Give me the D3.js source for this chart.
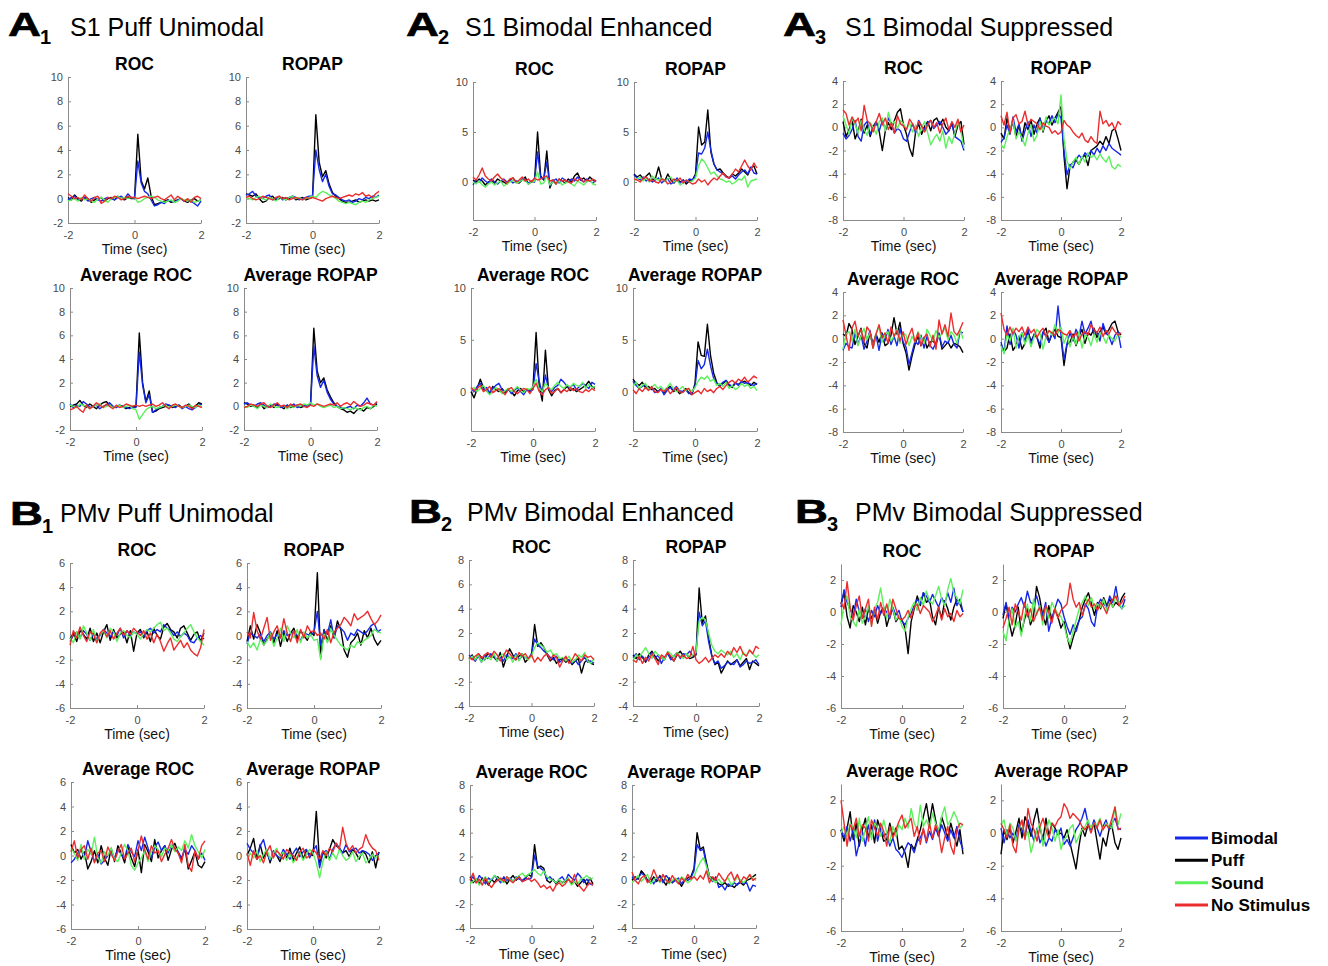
<!DOCTYPE html>
<html><head><meta charset="utf-8">
<script src="https://cdn.jsdelivr.net/npm/d3@7"></script>
<style>
body{margin:0;background:#fff;}
svg{display:block;font-family:"Liberation Sans",Arial,Helvetica,sans-serif;}
</style>
</head><body>
<svg id="chart" width="1328" height="966"></svg>
<script>
// ---------------- DATA ----------------
const timeSec = [-2.0,-1.9,-1.8,-1.7,-1.6,-1.5,-1.4,-1.3,-1.2,-1.1,-1.0,-0.9,-0.8,-0.7,-0.6,-0.5,-0.4,-0.3,-0.2,-0.1,
  0.0,0.1,0.2,0.3,0.4,0.5,0.6,0.7,0.8,0.9,1.0,1.1,1.2,1.3,1.4,1.5,1.6,1.7,1.8,1.9,2.0];
const seriesNames = ["Bimodal","Puff","Sound","No Stimulus"];
const panelTitles = ["ROC","ROPAP","Average ROC","Average ROPAP"];
const groupLetters = ["A","A","A","B","B","B"];
const groupSubscripts = ["1","2","3","1","2","3"];
const groupTitles = ["S1 Puff Unimodal","S1 Bimodal Enhanced","S1 Bimodal Suppressed",
  "PMv Puff Unimodal","PMv Bimodal Enhanced","PMv Bimodal Suppressed"];
const xTickValues = [-2,0,2];
const xLabel = "Time (sec)";
const yDomains = [[-2,10],[-3.8,10],[-8,4],[-6,6],[-4,8],[-6,3]];
const yTicks = [[-2,0,2,4,6,8,10],[0,5,10],[-8,-6,-4,-2,0,2,4],[-6,-4,-2,0,2,4,6],[-4,-2,0,2,4,6,8],[-6,-4,-2,0,2]];

// each panel: [Bimodal, Puff, Sound, No Stimulus]
const A1_ROC = [
 [-0.1,0.1,0.2,-0.1,0.0,0.1,-0.2,0.0,0.1,-0.1,-0.2,0.0,0.1,0.0,-0.1,0.1,0.2,0.0,0.4,0.1, 0.0,3.1,1.3,0.6,0.4,-0.1,-0.6,-0.5,-0.3,-0.4,-0.1,-0.2,-0.3,-0.1,0.0,-0.2,-0.1,-0.2,-0.4,-0.6,-0.2],
 [0.1,-0.1,0.3,0.0,-0.2,0.1,0.0,-0.3,-0.1,0.0,0.1,-0.2,0.0,0.1,-0.1,0.2,0.0,-0.1,0.1,0.0, 0.0,5.3,1.5,0.8,1.7,0.2,-0.5,-0.4,-0.3,-0.2,-0.1,-0.3,-0.2,-0.1,0.0,-0.2,-0.3,-0.1,0.0,-0.2,-0.1],
 [-0.2,-0.1,0.0,-0.2,0.1,-0.1,0.0,-0.2,-0.3,0.0,0.1,-0.1,-0.3,0.0,0.1,0.2,0.0,0.1,0.0,0.1, 0.1,-0.3,-0.2,0.0,0.1,0.2,0.1,-0.1,-0.2,-0.3,-0.2,-0.1,-0.3,-0.2,0.0,-0.1,-0.2,-0.1,-0.3,-0.2,-0.1],
 [0.4,0.2,0.0,0.1,-0.1,0.3,0.0,-0.2,0.1,0.2,-0.4,-0.2,0.1,0.0,0.2,0.1,-0.1,0.0,0.2,0.1, 0.1,0.0,0.1,0.2,0.1,0.0,0.1,0.2,0.0,-0.1,0.1,0.3,-0.1,0.2,0.0,-0.2,0.0,-0.3,0.1,0.2,0.0]];
const A1_ROPAP = [
 [0.3,0.4,0.6,0.2,0.1,0.0,0.2,0.3,-0.1,0.0,0.2,-0.1,0.0,0.1,0.2,0.1,-0.1,0.0,0.1,0.2, 0.2,4.0,2.4,1.4,2.0,1.0,0.4,0.3,0.1,-0.1,-0.2,-0.1,-0.3,-0.2,0.0,-0.1,0.1,0.0,0.2,0.1,0.3],
 [0.4,0.3,0.2,0.4,0.0,-0.3,-0.2,0.1,0.2,-0.1,0.0,0.1,-0.1,0.0,0.2,-0.1,0.0,0.1,-0.1,0.0, 0.1,6.9,3.0,1.8,2.3,1.2,0.5,0.2,0.0,-0.2,-0.3,-0.3,-0.2,-0.1,-0.3,-0.2,-0.1,-0.2,-0.1,-0.2,-0.1],
 [0.1,0.0,-0.1,0.1,0.2,0.0,-0.1,0.1,0.0,-0.2,0.1,0.0,-0.1,0.1,0.2,0.0,0.1,-0.1,0.0,0.1, 0.2,0.1,0.4,0.6,0.5,0.3,0.2,0.0,-0.2,-0.3,-0.4,-0.3,-0.4,-0.5,-0.3,-0.2,-0.3,-0.1,0.0,0.1,0.2],
 [0.1,0.2,0.0,-0.1,0.0,0.2,0.1,0.0,-0.1,0.1,0.2,0.0,0.1,-0.1,0.0,0.1,0.0,-0.1,0.1,0.0, 0.1,0.0,-0.1,-0.2,0.0,0.1,0.2,0.1,0.0,0.1,0.2,0.3,0.2,0.4,0.3,0.5,0.2,0.3,0.1,0.4,0.6]];
const A1_AVG_ROC = [
 [0.2,-0.1,0.1,0.0,0.4,0.2,-0.1,0.0,0.1,-0.2,0.0,0.1,0.3,0.0,-0.1,0.1,0.0,-0.1,-0.2,-0.1, -0.1,4.6,1.8,0.3,1.0,-0.5,-0.3,-0.1,0.0,0.2,0.1,0.0,-0.1,0.1,-0.2,0.0,-0.2,-0.3,-0.1,0.1,0.2],
 [0.0,0.1,0.2,0.5,0.1,-0.1,0.2,0.0,-0.2,0.1,0.3,0.4,0.1,0.0,-0.1,0.1,0.0,-0.2,-0.1,0.0, 0.0,6.2,2.0,0.4,1.3,-0.5,-0.4,-0.2,-0.1,0.0,0.1,-0.1,0.0,0.1,-0.1,0.0,0.2,-0.1,0.0,0.3,0.2],
 [0.1,0.0,-0.1,0.2,0.1,0.0,-0.2,0.0,0.1,0.2,-0.1,0.0,0.1,-0.1,0.0,0.1,-0.1,0.0,0.1,-0.2, -0.3,-1.1,-0.7,-0.3,-0.1,0.0,-0.2,-0.1,0.0,0.1,-0.1,0.0,0.1,0.0,-0.1,0.0,0.1,0.0,-0.1,0.1,0.0],
 [-0.3,-0.2,0.0,-0.3,-0.5,0.1,-0.2,0.0,0.3,0.1,-0.1,0.2,0.0,-0.2,0.1,-0.1,0.0,0.2,0.1,0.0, 0.1,0.0,0.1,0.0,0.1,0.2,0.0,0.1,0.3,0.0,-0.2,0.1,0.2,0.0,-0.1,0.1,0.0,-0.2,0.1,0.0,-0.1]];
const A1_AVG_ROPAP = [
 [0.2,0.3,0.1,0.0,0.2,0.3,0.1,-0.1,0.0,0.2,0.1,-0.1,0.0,0.1,0.0,0.2,-0.1,0.0,0.1,0.0, 0.1,5.1,2.6,1.6,2.2,1.2,0.6,0.2,0.0,-0.1,-0.2,-0.1,0.0,-0.2,0.1,0.0,0.3,0.7,0.2,0.1,0.3],
 [0.3,0.2,0.0,0.1,-0.1,0.2,-0.2,0.0,0.1,-0.1,0.2,0.0,-0.2,0.1,-0.1,0.0,0.1,-0.1,0.0,0.1, 0.1,6.6,3.0,2.0,2.4,1.4,0.8,0.3,0.0,-0.2,-0.3,-0.5,-0.4,-0.6,-0.3,-0.2,-0.4,-0.1,-0.2,0.0,0.2],
 [0.0,-0.1,0.1,0.0,-0.2,0.1,0.0,-0.1,0.2,0.0,-0.1,0.0,0.1,-0.2,0.0,-0.1,0.1,0.0,0.2,0.1, 0.3,0.1,0.2,0.0,-0.1,0.0,0.1,-0.1,0.0,-0.2,-0.1,-0.2,-0.3,-0.1,-0.2,-0.3,-0.1,0.0,-0.2,0.1,0.0],
 [-0.1,0.0,0.2,0.1,0.0,0.2,0.3,0.0,-0.1,0.1,0.3,0.0,0.1,-0.1,0.2,0.0,0.1,0.2,0.0,-0.1, 0.1,0.0,0.2,0.1,0.0,0.1,0.2,0.1,0.3,0.0,0.2,0.3,0.1,0.4,0.2,0.0,0.1,0.3,0.2,0.1,0.4]];

const A2_ROC = [
 [-0.3,0.2,0.0,0.4,0.1,-0.1,0.3,0.0,-0.2,0.1,0.3,0.0,0.2,-0.1,0.1,0.0,0.3,0.2,-0.1,0.1, 0.0,3.0,0.4,0.3,2.0,-0.4,0.1,0.3,-0.1,0.4,0.2,0.0,0.3,0.1,0.5,0.2,0.0,0.3,0.1,-0.1,0.2],
 [0.2,0.0,0.3,0.1,-0.3,0.0,0.2,-0.1,0.3,0.1,0.0,-0.2,0.2,0.4,0.0,-0.1,0.2,0.5,-0.2,0.0, 0.1,5.0,0.6,0.2,3.1,-0.6,0.2,-0.2,0.3,0.1,-0.1,0.3,0.0,0.6,0.9,0.2,0.4,0.1,0.5,0.2,0.1],
 [0.0,-0.2,0.1,-0.3,-0.5,-0.2,0.0,-0.3,-0.1,0.1,-0.4,-0.2,0.0,0.2,-0.1,0.0,0.2,0.1,-0.2,0.0, 0.1,1.0,-0.2,-0.1,0.6,-0.3,0.0,-0.2,0.1,-0.3,-0.1,0.0,-0.2,-0.4,0.1,-0.1,-0.3,0.0,0.2,-0.2,-0.3],
 [0.5,0.2,0.7,1.4,0.6,0.3,0.1,0.5,0.8,0.4,0.2,-0.1,0.3,0.4,0.0,0.2,0.5,0.1,0.3,0.0, 0.4,0.2,0.3,0.5,0.6,0.1,0.2,-0.2,0.3,0.1,0.2,0.0,-0.1,0.3,0.1,0.4,0.0,0.2,0.1,0.3,0.0]];
const A2_ROPAP = [
 [0.7,0.4,0.2,0.5,0.1,0.3,0.0,0.2,0.4,-0.1,0.2,0.3,-0.2,0.0,0.4,-0.1,0.2,0.0,0.3,0.2, 0.6,2.9,2.8,3.4,5.0,3.2,1.8,1.2,1.0,0.8,0.5,0.4,0.6,0.3,0.7,1.0,1.2,0.8,1.5,0.9,0.8],
 [0.8,0.5,0.7,0.3,0.6,0.9,0.2,0.4,1.5,0.3,0.1,0.8,0.2,-0.1,0.3,0.0,0.2,-0.2,0.1,0.2, 0.8,5.5,3.7,4.0,7.2,3.0,1.8,1.2,1.3,0.9,0.6,0.4,0.8,0.6,0.9,1.3,1.0,0.7,1.4,1.6,0.8],
 [0.2,0.3,0.5,0.1,0.4,0.0,0.6,0.3,0.2,0.4,0.1,0.3,0.5,0.0,0.2,-0.3,-0.1,0.2,0.0,0.1, 0.4,1.6,2.3,2.0,1.4,0.8,1.0,0.6,0.3,0.2,0.0,0.1,-0.2,0.0,0.3,0.2,0.6,-0.5,0.1,0.2,0.3],
 [0.3,0.2,0.0,0.4,0.5,0.1,0.2,0.0,-0.1,0.3,0.2,-0.2,0.0,0.3,0.1,0.4,-0.1,0.2,0.0,-0.2, -0.1,0.3,0.0,0.2,-0.3,0.1,0.4,0.2,0.6,0.9,0.5,0.4,0.8,1.3,1.0,1.6,2.2,1.6,1.2,1.9,1.4]];
const A2_AVG_ROC = [
 [0.3,0.0,0.5,0.8,0.2,0.4,-0.1,0.3,0.6,0.8,0.2,0.0,0.3,-0.2,0.1,0.4,0.0,-0.3,0.2,0.0, 0.2,2.7,1.0,-0.2,1.6,0.3,0.0,0.4,0.6,1.2,0.9,0.5,0.4,0.7,0.2,0.5,0.8,0.6,0.3,0.9,0.7],
 [0.0,-0.6,0.3,1.2,0.4,0.1,-0.2,0.5,0.2,0.0,0.3,-0.1,0.2,0.0,-0.4,0.1,0.3,0.0,0.2,0.1, 0.4,5.7,0.5,-0.9,4.0,0.2,-0.4,0.1,0.3,-0.1,0.2,0.5,0.1,0.3,0.0,0.2,0.4,0.6,1.0,0.5,0.3],
 [0.2,0.4,0.0,0.3,0.6,0.1,-0.3,0.0,0.4,0.2,-0.2,0.1,0.3,0.0,0.2,0.5,0.1,-0.1,0.3,0.2, 0.5,1.2,0.3,0.0,0.8,0.4,0.2,0.6,0.9,0.5,0.3,0.7,0.4,0.8,0.6,0.5,0.9,0.3,0.7,0.4,0.5],
 [0.4,0.1,0.3,0.6,0.0,0.2,0.5,-0.1,0.1,0.3,0.0,-0.3,0.2,0.4,0.0,-0.2,0.1,0.3,0.2,-0.2, 0.3,0.8,0.0,-0.3,0.2,0.4,-0.2,0.0,0.3,-0.1,0.2,0.0,0.4,0.1,0.3,0.0,-0.1,0.2,0.0,0.3,0.1]];
const A2_AVG_ROPAP = [
 [1.0,0.6,0.3,0.5,0.7,0.2,0.4,-0.1,0.0,0.3,-0.3,0.1,0.4,0.2,0.5,0.1,0.0,0.2,-0.2,-0.1, 0.5,3.0,2.2,2.6,4.1,2.5,1.3,0.8,0.6,0.9,1.1,0.7,0.5,0.9,0.6,1.0,0.8,0.9,0.7,0.6,0.8],
 [1.2,0.8,0.6,0.9,0.4,0.5,0.2,0.3,0.0,0.2,-0.1,0.3,0.5,0.0,0.2,-0.2,0.0,0.3,-0.1,-0.3, 0.8,4.8,3.5,3.4,6.5,3.5,1.8,0.9,0.5,0.8,1.0,0.6,0.4,0.8,0.7,0.9,1.0,0.8,0.6,0.9,0.7],
 [0.5,0.9,0.3,0.6,0.8,0.2,0.4,0.7,0.3,0.5,0.1,0.4,0.8,0.3,0.0,0.2,0.5,0.1,0.3,0.0, 0.4,1.0,1.4,1.2,1.5,1.0,1.2,0.6,0.8,0.5,0.9,0.3,0.6,0.2,0.4,0.8,0.5,0.7,0.3,0.5,0.1],
 [0.2,-0.2,0.3,0.0,0.4,0.1,0.5,0.0,-0.1,0.2,0.0,0.3,-0.2,0.1,0.4,0.0,-0.1,0.2,0.3,-0.3, -0.1,0.1,-0.2,0.3,0.0,0.2,-0.1,0.3,0.5,0.2,0.6,0.9,1.1,0.8,1.2,1.0,1.4,0.9,1.2,1.5,1.3]];

const A3_ROC = [
 [-0.5,-1.0,-0.7,-0.2,0.6,-0.8,-1.2,0.2,0.5,-0.6,0.0,0.4,-0.3,0.6,-0.2,0.8,0.3,-0.5,-0.1,-0.3, -1.0,-1.2,-0.4,0.3,-0.5,0.6,0.1,-0.2,0.4,0.6,-0.1,0.2,0.5,0.0,-0.6,-0.3,0.3,-0.8,-1.0,-1.2,-2.0],
 [0.5,-0.8,-0.2,0.6,-1.0,-0.3,0.7,-0.5,0.2,-0.8,0.1,0.5,-0.4,-2.0,-0.3,0.4,-0.2,0.6,1.3,1.6, 0.2,-0.6,-1.8,-2.5,-0.4,0.3,-0.6,0.1,0.5,-0.3,0.6,0.8,0.2,0.7,0.0,-0.3,0.4,-0.8,0.2,0.5,-1.5],
 [1.0,0.2,-0.6,0.8,0.3,-0.5,0.6,-0.2,-0.7,0.4,0.0,-0.6,0.5,0.8,-0.3,1.3,0.2,0.5,-0.1,0.6, 0.3,-0.2,0.4,-0.4,0.2,-0.8,0.0,0.5,-0.5,-1.5,-1.0,-0.6,-1.2,-0.3,-1.8,-0.8,-1.4,-0.5,0.5,-0.4,-1.8],
 [1.5,1.2,0.2,0.9,0.4,0.8,-0.3,1.9,0.6,0.3,-0.4,0.5,1.2,0.2,0.8,-0.2,0.4,-0.5,1.0,0.3, 0.1,-0.2,0.7,0.3,-0.3,0.5,0.1,-0.4,0.2,0.6,0.0,0.4,-0.5,0.3,0.8,-0.2,0.5,0.0,0.7,-0.4,0.2]];
const A3_ROPAP = [
 [-1.3,-0.9,0.2,-0.6,0.9,-0.4,0.3,-1.2,-0.3,0.5,-0.8,0.2,-0.5,0.8,-0.2,0.6,0.3,1.0,0.4,1.2, 0.8,-2.0,-4.1,-3.2,-3.5,-2.8,-2.4,-2.7,-2.2,-2.5,-2.0,-2.4,-1.8,-2.2,-1.6,-2.0,-1.4,-1.8,-2.0,-2.2,-2.4],
 [-0.5,-1.0,0.8,-0.3,0.5,-0.8,0.2,-1.0,0.4,-0.2,0.6,-0.6,0.3,0.8,-0.4,0.5,1.0,0.2,0.8,1.3, 1.8,-2.5,-5.3,-3.4,-3.0,-2.8,-3.2,-2.6,-2.4,-3.3,-2.0,-1.8,-1.6,-1.2,-1.5,-0.8,-1.4,-0.3,-0.1,-1.0,-2.0],
 [-1.5,-1.8,-0.8,-0.2,0.6,-1.0,-0.4,-0.9,-1.6,-0.5,0.2,-1.2,-0.7,0.5,-0.3,0.9,0.2,0.6,0.8,0.3, 2.8,-1.0,-2.9,-3.6,-3.0,-2.6,-3.2,-2.5,-3.0,-2.2,-2.6,-2.4,-2.8,-2.3,-2.7,-3.0,-2.5,-3.4,-3.6,-3.2,-3.4],
 [1.0,0.2,1.3,-0.5,0.8,1.1,0.3,0.5,1.4,0.2,0.7,0.5,0.3,-0.2,0.4,0.1,0.0,-0.5,-0.3,-0.6, -0.4,0.6,0.2,0.0,-0.4,-0.7,-0.9,-0.5,-1.1,-1.3,-0.8,-1.2,-1.4,1.4,0.3,0.6,0.1,0.4,-0.2,0.5,0.2]];
const A3_AVG_ROC = [
 [-1.0,-0.4,-0.7,-0.8,0.5,-0.5,0.3,-0.9,-0.2,0.7,-0.8,0.3,-1.0,0.4,-0.2,0.8,-0.5,0.2,-0.6,0.9, -0.3,-0.7,-2.2,-1.2,-0.2,-0.5,0.3,-0.8,0.2,-0.6,-0.9,-0.3,0.5,-0.7,-0.2,-0.4,0.3,-0.5,-0.8,0.6,0.5],
 [0.4,0.2,1.3,0.8,-0.5,0.2,0.9,-0.4,-0.8,0.6,-0.5,0.4,-0.3,0.5,-0.6,-0.4,0.3,1.8,0.4,1.4, -0.4,-1.2,-2.7,-1.5,-0.5,0.2,-0.6,0.1,-0.8,-0.3,-0.2,-0.5,0.4,-0.9,-0.6,-0.3,-0.8,-0.4,-0.5,-0.7,-1.2],
 [-0.9,0.4,0.6,-0.2,0.8,-0.6,0.2,0.9,-0.1,0.5,-0.8,0.4,1.0,-0.3,0.3,0.6,-0.2,0.2,0.8,-0.4, 0.5,0.3,-0.6,0.2,-0.3,0.6,0.1,-0.4,0.8,0.3,-0.2,0.7,0.1,0.5,0.9,-0.1,0.6,0.3,-0.4,0.8,0.0],
 [1.6,0.3,-1.0,0.9,1.5,0.2,0.8,-0.3,1.0,0.6,-0.8,0.4,1.2,0.1,0.5,-0.4,1.0,0.2,0.7,-0.2, 0.6,-0.5,0.3,0.9,-0.3,0.5,-0.6,0.1,0.4,-0.7,0.3,-0.9,1.6,0.4,1.2,0.2,2.2,0.6,0.3,0.8,1.4]];
const A3_AVG_ROPAP = [
 [-0.3,-1.2,1.1,-0.5,0.8,0.3,-0.8,0.5,-0.2,0.9,-0.6,0.4,0.1,-0.5,0.6,0.2,-0.3,0.5,0.0,2.8, 0.3,-1.8,-0.4,0.5,-0.2,0.8,0.2,1.5,0.4,0.9,1.5,0.3,0.6,-0.2,1.3,0.5,0.2,-0.5,0.3,0.6,-0.8],
 [-0.5,-1.1,-0.8,0.4,-1.0,-0.6,0.2,-0.9,-0.4,0.6,-0.2,0.3,0.1,-0.8,0.5,0.9,-0.3,0.4,0.8,0.2, 0.1,-2.3,-0.5,-0.3,0.4,-0.6,0.2,0.8,-0.4,0.5,0.3,0.9,0.1,0.6,1.0,0.4,0.8,1.3,1.5,0.6,0.3],
 [-0.6,-1.3,0.4,-0.2,0.9,-0.8,0.2,0.5,-0.5,0.3,-0.7,0.1,0.8,0.5,-0.9,0.2,0.7,0.3,1.2,0.5, 1.0,-0.4,0.3,-0.7,0.2,-0.5,0.6,-0.8,0.3,0.1,-0.6,0.4,-0.3,0.5,0.2,-0.4,0.3,0.0,-0.2,0.4,0.1],
 [2.2,0.8,0.3,1.0,0.4,0.9,0.6,1.0,0.3,1.0,0.5,0.8,0.1,0.6,0.9,0.2,0.7,0.5,0.3,0.8, 0.6,0.4,0.3,0.7,0.1,0.5,-0.2,0.4,0.6,0.3,1.2,0.8,0.5,1.0,0.2,0.7,0.4,1.0,0.6,0.3,0.5]];

const B1_ROC = [
 [-0.5,0.0,0.3,-0.2,0.4,0.1,-0.4,0.2,-0.3,0.0,0.5,0.2,-0.1,0.3,0.0,0.6,-0.2,0.4,0.0,0.3, 0.1,0.3,-0.1,0.4,0.6,0.2,0.5,0.3,0.9,0.6,0.4,0.0,0.3,-0.1,0.2,0.0,-0.5,-0.6,-0.2,0.0,-0.3],
 [-0.3,0.2,-0.5,0.4,0.1,-0.3,0.6,-0.5,0.2,-0.6,0.3,0.9,-0.4,0.5,-0.2,0.1,0.3,-0.6,0.4,-1.3, 0.2,0.5,-0.2,0.3,-0.5,0.6,0.0,-0.3,0.7,1.0,0.5,0.3,-0.2,0.6,0.8,0.2,-0.4,0.1,0.3,-0.5,0.2],
 [-0.2,-0.6,0.3,-0.3,0.8,0.2,-0.4,0.5,-0.6,0.1,0.4,-0.2,0.6,0.3,-0.5,0.2,0.4,0.0,-0.2,0.3, 0.1,-0.3,0.2,0.5,0.3,0.6,0.9,1.1,0.4,0.6,0.2,-0.3,-0.5,-0.1,0.2,0.6,0.9,0.3,-0.2,-0.5,-0.8],
 [-0.8,0.4,-0.2,0.7,0.0,-0.5,0.3,0.1,-0.6,0.2,0.5,-0.1,0.4,-0.3,0.2,0.6,0.0,0.4,0.1,0.6, 0.3,0.0,0.4,-0.3,0.2,-0.6,0.1,-0.5,-1.3,-0.7,-0.2,-1.2,-0.8,-0.4,-1.0,-0.6,-1.2,-1.5,-1.7,-1.0,0.5]];
const B1_ROPAP = [
 [-0.7,0.2,0.0,-0.2,0.1,-0.5,0.0,0.3,-0.3,0.1,-0.2,0.4,0.0,0.1,0.3,0.0,-0.4,0.2,0.1,0.0, 0.3,2.0,-0.8,0.4,0.1,1.3,-0.2,0.8,0.6,0.3,-0.4,0.2,0.0,0.5,0.3,0.1,0.4,0.8,1.0,0.3,0.5],
 [-0.5,0.8,-0.3,0.9,0.2,-0.8,-0.3,0.1,-0.6,0.4,-0.9,0.3,-0.5,0.2,0.6,-0.3,0.4,0.0,-0.4,0.3, 0.0,5.2,-1.8,0.5,-0.5,0.8,-0.2,1.2,0.5,-1.2,-1.8,-0.6,-0.3,0.2,-0.8,0.4,-0.2,0.6,-0.3,-0.8,-0.4],
 [-0.5,-1.0,-0.6,-1.2,-0.3,-0.8,-0.4,0.2,-0.9,-0.2,0.6,-0.5,0.8,0.2,-0.2,0.5,-0.6,0.3,-0.2,0.1, -0.4,-0.3,-2.0,0.1,-0.6,0.6,0.0,-0.4,-0.8,-1.0,-1.2,-0.8,-1.0,-0.5,-0.7,-0.4,-0.2,0.0,0.5,0.3,0.2],
 [0.3,-0.2,1.9,0.4,-0.3,0.6,1.5,-0.4,0.3,0.8,-0.2,1.4,0.2,-0.5,0.4,-0.6,0.5,-0.2,0.8,0.3, 0.4,0.0,0.2,-0.3,0.5,-0.6,0.3,0.6,0.9,1.5,1.2,0.8,1.8,1.3,1.5,1.7,2.0,1.4,0.9,1.2,1.7]];
const B1_AVG_ROC = [
 [-0.6,-0.3,0.2,0.5,-0.2,1.2,0.3,-0.5,0.1,-0.7,-0.4,0.0,0.3,-0.2,0.5,0.1,-0.3,0.9,0.3,-0.1, 1.2,0.4,1.5,0.6,-0.2,0.7,1.1,0.4,0.8,0.2,0.9,0.6,0.3,-0.2,0.5,0.1,0.8,0.4,-0.3,0.2,-0.4],
 [0.9,0.2,0.5,-0.3,0.3,-1.1,-0.5,0.4,-0.6,0.8,-0.2,-0.8,0.6,-0.5,0.8,0.2,-0.6,0.7,-0.2,-0.9, 0.5,-1.4,0.9,0.3,-0.5,1.3,-0.2,0.4,0.8,-0.4,0.5,1.0,0.2,-0.3,0.6,-1.1,-0.4,0.3,-0.8,-1.0,-0.5],
 [0.6,0.2,-0.4,0.9,-0.3,0.5,0.1,1.5,-0.2,-0.6,0.3,0.0,0.6,-0.3,-0.5,0.2,0.9,0.4,-0.8,-1.2, -0.6,-0.2,0.4,-0.5,0.3,0.8,0.5,-0.1,0.6,0.4,0.9,0.3,0.7,0.4,1.2,0.6,1.7,0.8,0.3,-0.2,0.5],
 [0.3,1.2,-0.2,0.5,0.8,-0.3,0.6,-0.6,0.2,0.4,-0.5,0.7,0.1,-0.4,0.3,0.9,-0.3,0.2,0.6,-0.5, 0.4,1.6,0.5,-0.3,0.8,0.2,0.4,-0.5,0.1,0.6,1.3,0.5,0.2,-0.6,0.9,-0.8,-1.3,0.4,-0.3,0.8,1.2]];
const B1_AVG_ROPAP = [
 [1.0,0.5,0.2,-0.3,0.8,1.3,0.2,-0.4,0.4,0.0,-0.2,0.5,0.1,-0.3,0.2,0.6,-0.1,0.3,0.5,-0.2, 0.4,0.8,-1.0,0.2,0.4,-0.3,0.5,1.0,0.6,0.2,0.9,0.3,0.5,0.6,0.2,0.4,0.3,0.1,-0.4,0.0,0.2],
 [0.0,0.6,1.4,-0.3,0.9,-0.2,0.4,-0.6,0.3,0.0,-0.5,0.3,-0.2,0.6,-0.4,0.2,0.7,-0.3,0.4,0.1, 0.0,3.6,-0.6,0.3,-0.2,0.5,1.3,0.8,0.6,0.2,0.4,-0.1,0.5,0.2,-0.3,0.4,0.1,-0.6,0.3,-1.0,0.3],
 [-0.3,0.2,-0.2,0.4,-0.5,0.1,0.5,-0.3,0.2,0.6,-0.1,0.3,-0.4,0.2,-0.6,-0.2,0.3,-0.4,0.1,0.5, 0.2,-0.6,-1.8,-0.5,0.3,-0.4,0.2,-0.3,0.5,0.0,-0.4,-0.2,0.3,-0.5,-0.1,0.2,-0.6,-0.3,0.1,-0.2,0.0],
 [0.2,-0.8,0.4,-0.3,0.0,-0.6,0.3,0.8,-0.2,0.4,0.1,-0.3,0.5,0.2,0.0,-0.4,0.3,0.6,-0.2,0.0, 0.5,0.2,-0.3,0.4,0.0,0.6,0.3,1.0,0.5,2.3,1.0,0.4,0.8,0.2,0.5,0.7,1.7,1.0,0.6,0.4,-0.4]];

const B2_ROC = [
 [0.2,-0.1,-0.3,0.1,-0.4,0.2,-0.1,0.3,0.1,-0.2,0.0,-0.3,0.2,0.0,-0.1,0.3,-0.2,0.1,0.0,-0.1, 0.3,1.5,1.0,0.8,0.5,0.3,0.0,-0.2,0.1,-0.4,-0.2,0.0,-0.3,-0.5,-0.2,-0.6,-0.3,0.0,-0.4,-0.3,-0.5],
 [-0.1,0.2,-0.3,0.3,0.0,-0.2,0.3,0.2,0.0,-0.3,0.4,-0.8,0.0,0.7,0.2,-0.2,0.1,0.3,-0.4,-0.1, 0.2,2.7,0.9,1.2,0.8,0.2,-0.3,0.0,-0.5,-0.2,-0.1,-0.4,-0.2,-0.6,-0.3,-0.1,-1.3,-0.4,-0.2,-0.5,-0.6],
 [-0.2,0.1,-0.2,0.2,-0.4,-0.1,0.0,-0.2,0.3,-0.3,0.1,0.3,-0.2,0.1,-0.4,0.2,-0.3,0.3,0.0,-0.2, 0.1,0.8,1.2,1.0,0.8,0.4,0.6,0.2,0.3,-0.1,0.0,-0.3,0.1,-0.4,-0.2,0.2,0.0,0.4,-0.3,-0.5,-0.1],
 [0.0,-0.2,0.1,0.3,-0.1,0.2,0.4,0.0,0.5,0.2,-0.3,0.1,0.6,0.3,0.0,-0.2,0.4,0.1,0.3,-0.1, 0.2,-0.4,0.0,-0.3,0.1,0.3,-0.2,0.2,0.0,-0.8,-0.3,0.1,-0.5,-0.2,0.3,0.0,-0.3,0.2,0.0,0.1,-0.2]];
const B2_ROPAP = [
 [0.0,0.3,-0.2,0.1,-0.3,0.0,0.4,-0.1,0.2,-0.5,0.0,0.3,-0.2,0.1,0.4,-0.1,0.3,0.2,0.5,0.1, 0.3,3.7,2.6,3.0,1.3,0.1,-0.5,-0.3,-0.9,-0.7,-0.4,-0.5,-0.6,-0.2,-0.8,-0.6,-0.3,-0.5,-0.4,-0.2,-0.6],
 [0.2,-0.1,0.3,0.0,-0.4,0.2,0.5,0.1,-0.3,0.0,-0.2,0.4,0.0,-0.3,0.2,0.5,0.1,0.3,-0.1,0.0, 0.2,5.7,2.8,3.4,1.6,0.2,-0.6,-0.4,-1.3,-0.8,-0.3,-0.6,-0.4,-0.2,-0.7,-0.4,-0.1,-1.0,-0.3,-0.5,-0.7],
 [-0.3,0.2,0.0,0.4,0.8,0.3,-0.1,0.5,0.2,0.0,-0.2,0.5,0.3,0.0,0.4,0.1,-0.1,0.3,0.0,0.2, 0.4,3.0,3.3,3.1,2.0,1.0,0.5,0.3,0.6,0.4,0.2,0.5,0.0,0.3,-0.2,0.4,0.1,0.6,0.3,0.0,0.2],
 [-0.2,-0.4,0.1,-0.5,0.0,-0.3,0.3,-0.1,-0.6,0.2,0.0,0.4,0.1,-0.3,0.3,0.0,0.2,-0.1,0.0,0.9, -0.2,-0.5,-0.3,0.0,-0.4,-0.1,0.2,0.0,0.3,0.0,0.5,0.2,0.8,0.4,0.9,0.3,0.1,0.6,0.3,0.9,0.7]];
const B2_AVG_ROC = [
 [0.0,0.3,-0.2,0.4,0.1,-0.3,0.2,0.0,0.4,0.1,-0.2,0.3,0.0,0.2,-0.1,0.3,0.1,0.0,0.2,0.1, 0.2,2.1,1.2,1.0,0.8,0.1,0.3,0.0,-0.2,0.1,0.3,-0.1,0.5,0.2,0.0,0.6,0.3,-0.2,0.1,-0.3,-0.4],
 [0.3,-0.2,0.1,-0.3,0.2,0.0,-0.4,0.1,-0.2,0.3,0.0,0.2,-0.3,0.1,0.4,0.0,0.3,-0.1,0.2,0.5, 0.3,3.0,1.0,1.2,1.0,0.0,-0.2,0.1,-0.3,0.0,-0.2,-0.1,0.1,-0.3,-0.1,-0.5,-0.2,0.1,-0.4,0.2,-0.3],
 [-0.3,-0.1,0.1,-0.4,0.0,0.3,-0.2,0.1,0.4,0.2,0.0,-0.2,0.3,0.1,-0.1,0.2,0.4,0.6,0.3,0.5, 0.7,0.9,0.6,0.4,0.8,0.3,0.1,0.0,-0.2,0.1,-0.3,0.0,0.2,-0.4,-0.1,-0.3,0.1,0.2,0.4,0.1,0.2],
 [0.0,0.6,-0.2,0.1,-0.4,0.2,-0.3,-0.6,-0.2,0.0,0.2,-0.1,0.3,0.0,-0.2,0.1,0.3,-0.1,0.0,0.2, -0.1,0.1,-0.2,-0.6,-0.4,-0.7,-0.5,-0.9,-0.4,-0.2,-0.5,-0.3,0.1,-0.2,0.5,-0.3,-0.6,-0.9,-0.5,-0.2,-0.4]];
const B2_AVG_ROPAP = [
 [0.3,0.0,0.2,0.6,0.4,-0.1,0.2,-0.3,0.1,0.3,-0.2,0.4,0.1,-0.2,0.0,0.2,-0.3,0.1,0.0,0.2, 0.8,3.0,2.5,2.6,1.3,0.2,-0.1,0.3,-0.6,-0.4,-0.8,-0.3,-0.5,-0.2,-0.4,0.0,-0.3,-0.2,-0.9,-0.4,-0.5],
 [0.0,0.3,0.1,0.8,0.5,0.0,-0.2,0.3,-0.1,0.4,0.0,-0.4,0.2,-0.2,0.1,-0.1,-0.5,0.0,0.2,0.3, 1.0,4.0,2.6,2.8,1.5,0.3,0.2,0.0,-0.3,-0.4,-0.2,-0.5,-0.4,-0.6,-0.3,-0.2,-0.4,0.0,0.1,0.3,0.5],
 [-0.2,0.1,0.4,-0.1,0.2,0.5,-0.3,0.0,0.3,-0.2,0.4,0.1,-0.3,0.0,0.2,-0.1,0.3,0.1,-0.2,0.0, 0.3,1.0,1.5,1.9,1.2,0.3,0.0,-0.2,0.1,-0.3,0.0,0.2,-0.4,-0.1,0.3,0.0,-0.2,0.1,0.4,0.2,0.0],
 [0.7,0.0,-0.3,0.2,0.4,-0.2,0.1,0.9,0.3,-0.1,0.5,0.0,-0.2,0.4,0.0,-0.3,0.2,-0.1,0.5,0.1, 0.3,0.0,0.4,0.1,0.8,-0.2,0.3,0.0,0.6,0.2,-0.1,0.4,0.7,0.0,0.5,-0.2,0.3,0.1,0.5,0.0,0.2]];

const B3_ROC = [
 [0.3,1.4,0.6,0.2,-0.3,0.8,0.0,-0.4,0.2,-0.6,0.1,-0.3,0.4,-0.1,0.2,0.0,-0.4,0.3,-0.2,0.1, -0.6,-0.8,-0.4,-0.1,0.4,0.8,0.5,1.2,1.0,0.6,1.1,0.7,0.3,0.9,0.5,1.2,0.6,1.5,0.4,0.8,0.0],
 [0.5,1.2,-0.3,-1.0,0.4,0.0,-0.6,0.3,-0.8,0.2,-0.4,0.1,-0.7,0.0,0.3,-0.9,-0.2,0.2,-0.6,-0.3, -0.5,-1.0,-2.6,-0.6,0.2,1.0,0.4,1.2,0.6,0.8,-0.3,-0.8,0.3,-0.4,0.7,0.2,-0.5,0.3,0.8,0.5,0.0],
 [-0.8,0.5,1.0,-0.3,-0.6,-0.9,0.2,-0.7,-0.3,0.4,-0.8,0.2,0.6,1.5,0.3,-0.4,0.8,0.2,-0.5,-0.2, -0.9,-1.2,-0.3,0.2,0.6,0.1,0.9,0.4,1.3,0.7,0.5,1.0,1.6,0.8,0.4,1.4,2.1,1.2,0.9,0.5,1.4],
 [0.6,0.2,1.9,0.3,-0.5,0.4,1.0,-0.4,0.2,0.8,-0.9,0.3,-0.5,0.6,-0.2,0.5,-0.3,0.8,0.2,-0.4, -0.5,-0.3,0.1,-0.4,0.3,0.5,-0.1,0.4,0.2,0.0,-0.6,-0.2,0.3,-0.5,0.2,-0.3,-0.1,-0.6,0.1,-0.3,-0.1]];
const B3_ROPAP = [
 [-0.2,0.6,-0.4,0.3,0.0,0.5,0.9,0.3,1.3,0.6,0.5,1.0,0.3,-0.2,0.6,-1.2,-0.4,0.2,0.8,0.5, -0.3,-0.9,-1.4,-0.8,-1.2,-0.5,-0.3,0.5,0.2,-0.6,-0.9,0.4,0.8,0.5,0.3,1.0,0.6,1.6,0.5,0.2,0.8],
 [-0.4,0.5,-0.6,-1.5,-0.8,0.3,-1.3,-0.5,0.2,-0.8,-0.3,1.6,0.9,-0.2,-0.8,0.4,-0.5,0.2,-0.3,-1.0, -0.6,-1.5,-2.3,-1.6,-1.0,-0.5,0.3,0.8,1.2,0.5,-0.2,0.6,0.2,0.9,0.4,0.8,0.3,0.6,0.4,0.9,1.2],
 [-1.2,-1.8,-0.5,0.2,-1.0,-0.6,-1.5,-0.3,0.5,-0.6,0.8,-0.2,0.4,-0.8,0.3,-0.4,0.6,0.2,-0.1,-0.3, -0.8,-1.6,-2.0,-1.2,-0.5,0.2,0.6,1.0,0.4,0.9,0.2,0.5,0.3,0.8,0.1,0.6,0.3,1.0,0.6,0.2,0.4],
 [-1.0,-0.4,0.3,-0.8,0.5,0.0,-0.5,0.6,-0.3,0.2,-0.6,-0.1,0.3,-0.5,0.4,0.0,-0.7,0.2,-0.4,0.1, 0.3,0.5,1.8,0.8,0.3,0.6,-0.2,0.4,0.8,0.3,0.5,0.1,0.6,0.3,-0.1,0.5,0.8,1.0,0.4,0.6,1.0]];
const B3_AVG_ROC = [
 [0.2,-0.3,0.4,-0.5,0.2,-1.4,-0.6,0.1,-0.8,0.5,-0.2,0.8,-0.5,0.3,-0.2,0.0,-0.8,-0.3,-1.0,-1.2, -1.5,-1.0,-0.6,-0.8,-1.2,-0.5,-0.3,0.2,-0.6,0.1,-0.4,0.3,-0.2,0.5,0.0,-0.5,0.2,-0.3,0.4,-0.5,-1.0],
 [0.2,-0.5,0.3,1.3,-0.4,0.6,-0.8,0.2,0.9,-0.3,0.5,-0.6,0.8,0.2,-0.5,-0.4,0.6,-0.2,0.3,-1.0, -0.8,-1.2,-2.1,-0.7,-1.0,-0.4,0.2,1.0,1.8,0.6,1.8,0.8,-0.2,1.0,0.4,-0.3,0.6,-0.1,-0.8,0.2,-1.3],
 [0.0,0.4,-0.2,0.6,0.3,-0.3,0.9,-0.5,0.2,1.0,-0.4,0.6,0.3,-0.2,0.8,0.0,-0.6,0.4,-0.2,0.5, 0.2,0.9,0.3,1.5,0.6,0.2,1.7,0.4,0.8,0.3,1.2,0.6,0.2,1.0,1.6,0.5,0.8,1.3,0.9,0.3,0.5],
 [2.0,0.6,-0.8,0.5,0.2,0.9,-0.2,0.5,0.3,-0.5,0.8,0.3,-0.2,0.6,0.1,-0.8,0.4,-0.3,0.2,0.7, 1.1,0.3,0.6,0.9,-0.2,0.4,-0.7,0.3,-0.5,0.6,-0.3,0.5,0.0,-1.2,-0.3,0.4,-0.8,-1.3,0.2,0.6,0.5]];
const B3_AVG_ROPAP = [
 [0.3,-0.6,0.2,-0.3,0.0,-0.4,0.5,0.2,-0.3,0.8,0.1,-0.5,0.3,-0.6,-0.2,-0.8,-0.3,-0.5,0.2,-0.1, 0.3,-0.7,-0.4,-0.8,-0.3,0.2,0.5,0.9,1.5,0.6,0.2,0.8,0.3,-0.2,0.4,0.8,0.2,0.6,0.9,0.3,0.2],
 [-1.3,0.2,-0.4,0.3,-0.6,0.1,0.9,-0.3,1.0,0.5,-0.2,0.8,1.5,0.3,-0.4,0.9,-0.2,0.6,0.3,-0.1, 0.0,-0.3,0.2,-0.6,-1.4,-2.2,-0.8,0.3,-0.2,0.5,0.2,0.6,-0.5,-1.6,-0.3,-0.8,0.2,0.4,-0.6,-1.0,-0.3],
 [0.5,0.8,-0.2,0.6,0.3,-0.5,0.2,0.7,-0.3,0.1,-1.2,-0.5,0.2,0.6,-0.8,0.0,0.8,0.3,-0.5,0.2, -1.0,-0.4,-0.2,0.3,0.5,-0.6,-0.2,0.2,0.4,0.8,0.3,0.6,0.5,0.9,0.2,0.6,0.4,0.3,1.6,0.5,1.2],
 [0.6,0.2,-0.3,0.5,-0.8,-1.2,0.3,0.8,-0.4,1.5,0.6,0.2,-0.5,0.4,0.9,0.2,-0.3,0.6,0.4,0.8, 1.0,1.8,1.5,0.9,1.2,1.0,0.8,0.4,0.2,0.5,0.0,0.6,0.3,0.8,0.2,0.5,0.3,0.9,1.6,0.2,0.3]];

const groupData = [
  [A1_ROC, A1_ROPAP, A1_AVG_ROC, A1_AVG_ROPAP],
  [A2_ROC, A2_ROPAP, A2_AVG_ROC, A2_AVG_ROPAP],
  [A3_ROC, A3_ROPAP, A3_AVG_ROC, A3_AVG_ROPAP],
  [B1_ROC, B1_ROPAP, B1_AVG_ROC, B1_AVG_ROPAP],
  [B2_ROC, B2_ROPAP, B2_AVG_ROC, B2_AVG_ROPAP],
  [B3_ROC, B3_ROPAP, B3_AVG_ROC, B3_AVG_ROPAP]
];

// ---------------- STYLE / LAYOUT ----------------
const seriesColors = ["#1428e6","#000000","#5cf05c","#ec2d2d"];
const drawOrder = [1,0,2,3];
// panel boxes: [x0, x1, yTop, yBottom]
const layout = [
  {lx:8,   ly:36,  tx:70,  ty:36,  panels:[[68,201,77,223],[246,379,77,223],[70,202,288,430],[244,377,288,430]]},
  {lx:406, ly:36,  tx:465, ty:36,  panels:[[473,596,82,220],[634,757,82,220],[471,595,288,431],[633,757,288,431]]},
  {lx:783, ly:36,  tx:845, ty:36,  panels:[[843,964,81,220],[1001,1121,81,220],[843,963,292,432],[1001,1121,292,432]]},
  {lx:10,  ly:525, tx:60,  ty:522, panels:[[70,204,563,708],[247,381,563,708],[71,205,782,929],[247,379,782,929]]},
  {lx:409, ly:523, tx:467, ty:521, panels:[[469,594,560,706],[633,759,560,706],[470,593,785,928],[632,756,785,928]]},
  {lx:795, ly:523, tx:855, ty:521, panels:[[841,963,564,708],[1003,1125,564,708],[841,963,784,931],[1001,1121,784,931]]}
];

const svg = d3.select("#chart");
svg.append("rect").attr("width",1328).attr("height",966).attr("fill","#fff");

const fmt = d => String(d);

layout.forEach((g, gi) => {
  // group heading
  svg.append("text").attr("x", g.lx).attr("y", g.ly)
    .attr("font-size", 33).attr("font-weight", 900).attr("fill","#000")
    .attr("textLength", 33).attr("lengthAdjust","spacingAndGlyphs")
    .attr("stroke","#000").attr("stroke-width",0.6)
    .text(groupLetters[gi]);
  svg.append("text").attr("x", g.lx + 32).attr("y", g.ly + 8)
    .attr("font-size", 20).attr("font-weight", 700).attr("fill","#000")
    .text(groupSubscripts[gi]);
  svg.append("text").attr("x", g.tx).attr("y", g.ty)
    .attr("font-size", 25).attr("fill","#000")
    .text(groupTitles[gi]);

  g.panels.forEach((box, pi) => {
    const [x0, x1, yT, yB] = box;
    const x = d3.scaleLinear().domain([-2, 2]).range([x0, x1]);
    const y = d3.scaleLinear().domain(yDomains[gi]).range([yB, yT]);
    const p = svg.append("g");

    // axes
    const ax = p.append("g").attr("transform", `translate(0,${yB})`)
      .call(d3.axisBottom(x).tickValues(xTickValues).tickFormat(fmt).tickSize(-3).tickSizeOuter(0).tickPadding(8));
    const ay = p.append("g").attr("transform", `translate(${x0},0)`)
      .call(d3.axisLeft(y).tickValues(yTicks[gi]).tickFormat(fmt).tickSize(-3).tickSizeOuter(0).tickPadding(5));
    [ax, ay].forEach(a => {
      a.select(".domain").attr("stroke", "#8a8a8a").attr("stroke-width", 1);
      a.selectAll(".tick line").attr("stroke", "#8a8a8a");
      a.selectAll(".tick text").attr("fill", "#4a4a4a").attr("font-size", 11)
        .attr("font-family", '"Liberation Sans",Arial,sans-serif');
    });

    // lines
    const series = groupData[gi][pi];
    const line = d3.line()
      .x((d, i, arr) => x(arr.length === timeSec.length ? timeSec[i] : -2 + 4 * i / (arr.length - 1)))
      .y(d => y(d));
    drawOrder.forEach(si => {
      p.append("path").datum(series[si])
        .attr("d", line)
        .attr("fill", "none")
        .attr("stroke", seriesColors[si])
        .attr("stroke-width", 1.4)
        .attr("stroke-linejoin", "round");
    });

    // panel title
    p.append("text").attr("x", (x0 + x1) / 2).attr("y", yT - 7)
      .attr("text-anchor", "middle").attr("font-size", 17.5).attr("font-weight", 700)
      .attr("fill", "#000").text(panelTitles[pi]);
    // x label
    p.append("text").attr("x", (x0 + x1) / 2).attr("y", yB + 31)
      .attr("text-anchor", "middle").attr("font-size", 14).attr("fill", "#111")
      .text(xLabel);
  });
});

// legend
const legend = svg.append("g");
const legendY = d3.scalePoint().domain(seriesNames).range([838, 905]);
seriesNames.forEach((name, i) => {
  legend.append("line").attr("x1", 1175).attr("x2", 1208)
    .attr("y1", legendY(name)).attr("y2", legendY(name))
    .attr("stroke", seriesColors[i]).attr("stroke-width", 3);
  legend.append("text").attr("x", 1211).attr("y", legendY(name)).attr("dy", "0.36em")
    .attr("font-size", 17).attr("font-weight", 700).attr("fill", "#000").text(name);
});
</script>
</body></html>
